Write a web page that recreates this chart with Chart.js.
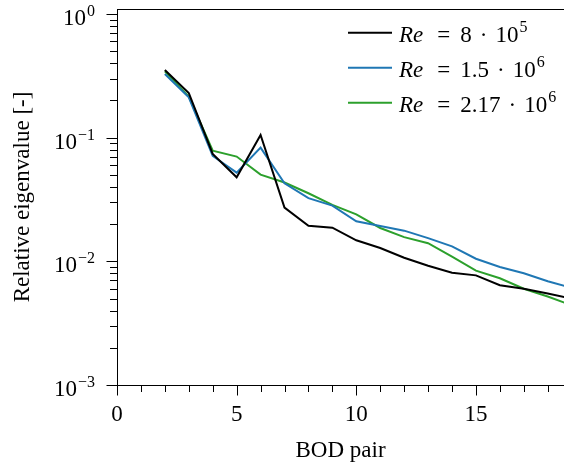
<!DOCTYPE html>
<html>
<head>
<meta charset="utf-8">
<script src="https://cdn.jsdelivr.net/npm/chart.js@4/dist/chart.umd.min.js"></script>
<style>html,body{margin:0;background:#fff}canvas{display:block}</style>
</head>
<body>
<canvas id="c" width="564" height="470"></canvas>
<script>
const pairs=[2,3,4,5,6,7,8,9,10,11,12,13,14,15,16,17,18,19];
const re8e5=[0.352,0.229,0.0738,0.0478,0.105,0.0272,0.0194,0.0187,0.0148,0.0128,0.0107,0.0092,0.0081,0.0077,0.0064,0.0060,0.0055,0.0050];
const re15e6=[0.327,0.212,0.0711,0.0521,0.083,0.0428,0.0324,0.0282,0.0211,0.0193,0.0177,0.0154,0.0132,0.0105,0.0090,0.0080,0.0069,0.0061];
const re217e6=[0.344,0.215,0.0785,0.0703,0.0502,0.0434,0.0355,0.0286,0.0240,0.0186,0.0157,0.0140,0.0109,0.0084,0.0073,0.0060,0.0052,0.0044];
const mantissas=['8','1.5','2.17'];
const exponents=['5','6','6'];
const colors=['#000000','#1f77b4','#2ca02c'];
const xTicks=[0,5,10,15];
const yTicks=[1e-3,1e-2,1e-1,1];
const FONT='"Liberation Serif","Times New Roman",serif';

function seg(ctx,x1,y1,x2,y2){ctx.beginPath();ctx.moveTo(x1,y1);ctx.lineTo(x2,y2);ctx.stroke()}

// spines, ticks, y labels with superscripts and the legend
const decor={id:'decor',afterDraw(chart){
  const {ctx,chartArea:a,scales:{x,y}}=chart;
  ctx.save();
  ctx.strokeStyle='#000';ctx.lineWidth=1;
  seg(ctx,a.left,a.top+0.5,a.right,a.top+0.5);
  for(let i=0;i<=Math.floor(x.max);i++){
    const px=Math.round(x.getPixelForValue(i))+0.5;
    seg(ctx,px,a.bottom,px,a.bottom+(i%5===0?10.5:7));
  }
  for(let d=-3;d<=0;d++)for(let m=1;m<=9;m++){
    const v=m*Math.pow(10,d); if(v>y.max) break;
    const py=Math.round(y.getPixelForValue(v))+0.5;
    seg(ctx,a.left-(m===1?10.5:7),py,a.left,py);
  }
  ctx.fillStyle='#000';ctx.textBaseline='alphabetic';ctx.textAlign='left';
  yTicks.forEach(v=>{
    const py=y.getPixelForValue(v);
    const e=String(Math.round(Math.log10(v))).replace('-','\u2212');
    ctx.font='16px '+FONT; const ew=ctx.measureText(e).width;
    ctx.font='23px '+FONT; const bw=ctx.measureText('10').width;
    const right=95;
    ctx.fillText('10',right-ew-bw-1,py+11);
    ctx.font='16px '+FONT; ctx.fillText(e,right-ew,py+2);
  });
  chart.data.datasets.forEach((ds,i)=>{
    const ly=32.7+35*i, base=ly+9;
    ctx.strokeStyle=ds.borderColor;ctx.lineWidth=2;
    seg(ctx,348,ly,392,ly);
    let tx=399;
    ctx.font='italic 23px '+FONT; ctx.fillText('Re',tx,base); tx+=ctx.measureText('Re').width+14;
    ctx.font='23px '+FONT; ctx.fillText('=',tx,base); tx+=ctx.measureText('=').width+10;
    ctx.fillText(mantissas[i],tx,base); tx+=ctx.measureText(mantissas[i]).width+8;
    ctx.fillText('\u00b7',tx,base); tx+=ctx.measureText('\u00b7').width+8;
    ctx.fillText('10',tx,base); tx+=ctx.measureText('10').width+1;
    ctx.font='16px '+FONT; ctx.fillText(exponents[i],tx,base-10);
  });
  ctx.restore();
}};

new Chart(document.getElementById('c'),{
  type:'line',
  data:{datasets:[re8e5,re15e6,re217e6].map((arr,i)=>({
    label:'Re = '+mantissas[i]+' \u00b7 10^'+exponents[i],
    data:pairs.map((p,j)=>({x:p,y:arr[j]})),
    borderColor:colors[i],borderWidth:2,pointRadius:0,tension:0,fill:false
  }))},
  options:{
    responsive:false,animation:false,devicePixelRatio:1,
    layout:{padding:{top:9,right:0,left:0,bottom:0}},
    plugins:{legend:{display:false},tooltip:{enabled:false}},
    scales:{
      x:{type:'linear',min:0,max:18.68,
        afterBuildTicks:s=>{s.ticks=xTicks.map(v=>({value:v}))},
        afterFit:s=>{s.height=85},
        grid:{display:false,drawTicks:false},
        border:{display:true,color:'#000',width:1},
        ticks:{color:'#000',font:{family:FONT,size:23},padding:16,maxRotation:0,autoSkip:false},
        title:{display:true,text:'BOD pair',color:'#000',font:{family:FONT,size:23},padding:{top:0,bottom:5}}},
      y:{type:'logarithmic',min:1e-3,max:1.097,
        afterBuildTicks:s=>{s.ticks=yTicks.map(v=>({value:v}))},
        afterFit:s=>{s.width=117},
        grid:{display:false,drawTicks:false},
        border:{display:true,color:'#000',width:1},
        ticks:{display:false},
        title:{display:true,text:'Relative eigenvalue [-]',color:'#000',font:{family:FONT,size:23},padding:{top:9,bottom:0}}}
    }
  },
  plugins:[decor]
});
</script>
</body>
</html>
